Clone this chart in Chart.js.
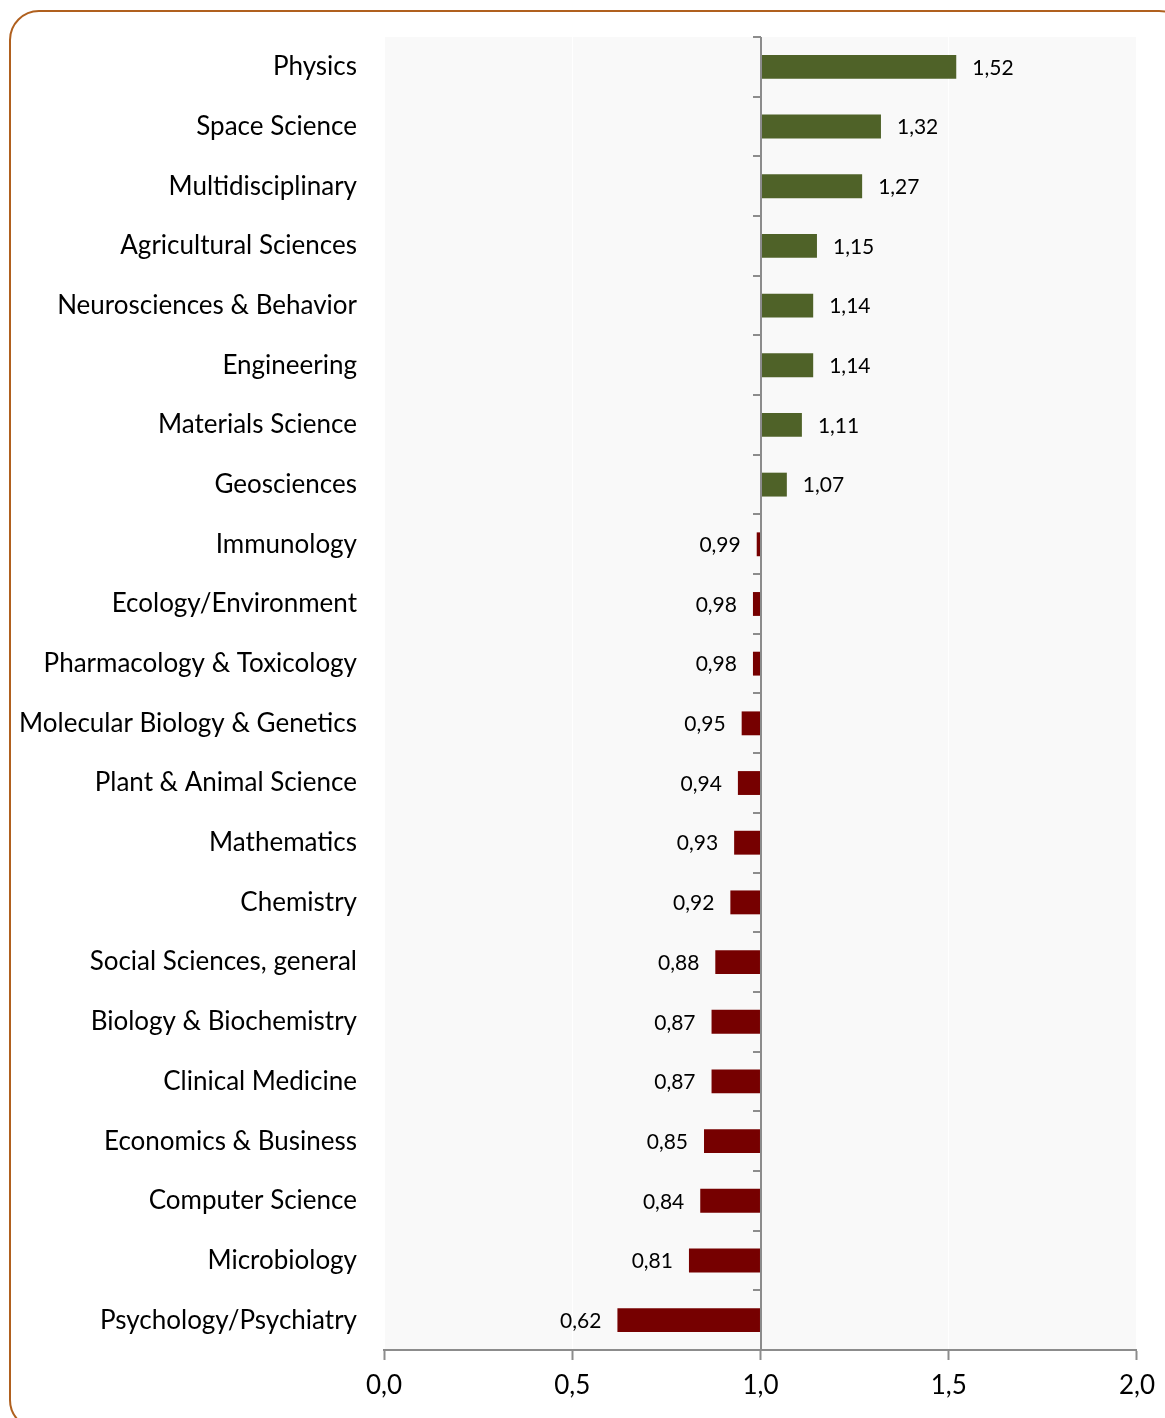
<!DOCTYPE html>
<html>
<head>
<meta charset="utf-8">
<script src="https://cdn.jsdelivr.net/npm/chart.js@4"></script>
<style>
  html, body { margin: 0; padding: 0; background: #fff; overflow: hidden; }
  #wrap { position: relative; width: 1165px; height: 1418px; }
  #frame {
    position: absolute; left: 9px; top: 10px; width: 1180px; height: 1420px;
    box-sizing: border-box; border: 2px solid #b0601e; border-radius: 30px;
  }
  canvas { position: absolute; left: 0; top: 0; }
</style>
</head>
<body>
<div id="wrap">
  <div id="frame"></div>
  <canvas id="chart" width="1165" height="1418"></canvas>
</div>
<script>
// categories and values (ratio vs. world average, base 1,0)
const categories = [
  "Physics", "Space Science", "Multidisciplinary", "Agricultural Sciences",
  "Neurosciences & Behavior", "Engineering", "Materials Science", "Geosciences",
  "Immunology", "Ecology/Environment", "Pharmacology & Toxicology",
  "Molecular Biology & Genetics", "Plant & Animal Science", "Mathematics",
  "Chemistry", "Social Sciences, general", "Biology & Biochemistry",
  "Clinical Medicine", "Economics & Business", "Computer Science",
  "Microbiology", "Psychology/Psychiatry"
];
const values = [
  1.52, 1.32, 1.27, 1.15, 1.14, 1.14, 1.11, 1.07,
  0.99, 0.98, 0.98, 0.95, 0.94, 0.93, 0.92, 0.88,
  0.87, 0.87, 0.85, 0.84, 0.81, 0.62
];
const xTicks = [0, 0.5, 1, 1.5, 2];

const GREEN = "#4f6228";
const RED = "#760000";
const AXIS = "#8c8c8c";
const fmt = (v, d) => v.toFixed(d).replace(".", ",");

// plot background + the vertical axis at 1,0 with its tick marks
const axisPlugin = {
  id: "axisAtOne",
  beforeDraw(chart) {
    const a = chart.chartArea;
    const ctx = chart.ctx;
    ctx.save();
    ctx.fillStyle = "#f9f9f9";
    ctx.fillRect(a.left, a.top, a.right - a.left, a.bottom - a.top);
    ctx.restore();
  },
  afterDraw(chart) {
    const a = chart.chartArea;
    const ctx = chart.ctx;
    const xs = chart.scales.x;
    const ys = chart.scales.y;
    const x1 = Math.round(xs.getPixelForValue(1)) + 1;
    ctx.save();
    ctx.strokeStyle = AXIS;
    ctx.lineWidth = 2;
    ctx.beginPath();
    ctx.moveTo(x1, a.top);
    ctx.lineTo(x1, a.bottom);
    const step = (ys.getPixelForValue(1) - ys.getPixelForValue(0));
    for (let i = 0; i <= categories.length; i++) {
      const y = Math.round(ys.getPixelForValue(0) - step / 2 + i * step);
      ctx.moveTo(x1 - 8, y);
      ctx.lineTo(x1, y);
    }
    ctx.stroke();
    ctx.restore();
  },
  afterDatasetsDraw(chart) {
    const ctx = chart.ctx;
    const xs = chart.scales.x;
    const meta = chart.getDatasetMeta(0);
    ctx.save();
    ctx.font = "21px Lato";
    ctx.fillStyle = "#000";
    ctx.textBaseline = "middle";
    meta.data.forEach((bar, i) => {
      const v = values[i];
      const px = xs.getPixelForValue(v);
      if (v >= 1) {
        ctx.textAlign = "left";
        ctx.fillText(fmt(v, 2), px + 16, bar.y + 1);
      } else {
        ctx.textAlign = "right";
        ctx.fillText(fmt(v, 2), px - 16, bar.y + 1);
      }
    });
    ctx.restore();
  }
};

new Chart(document.getElementById("chart"), {
  type: "bar",
  data: {
    labels: categories,
    datasets: [{
      data: values,
      base: 1,
      backgroundColor: values.map((v) => (v >= 1 ? GREEN : RED)),
      borderWidth: 0,
      barPercentage: 0.4,
      categoryPercentage: 1.0,
    }],
  },
  options: {
    indexAxis: "y",
    responsive: false,
    animation: false,
    layout: { padding: { top: 37, right: 27, bottom: 0, left: 0 } },
    plugins: {
      legend: { display: false },
      tooltip: { enabled: false },
    },
    scales: {
      x: {
        min: 0,
        max: 2,
        afterBuildTicks: (scale) => {
          scale.ticks = xTicks.map((v) => ({ value: v }));
        },
        afterFit: (scale) => { scale.height = 68; },
        grid: {
          color: "#ffffff",
          tickColor: AXIS,
          tickLength: 10,
          lineWidth: 1,
          tickWidth: 2,
        },
        border: { display: true, color: AXIS, width: 2 },
        ticks: {
          color: "#000",
          font: { family: "Lato", size: 26 },
          padding: 10,
          callback: (v) => fmt(v, 1),
        },
      },
      y: {
        afterFit: (scale) => {
          scale.width = 384;
          scale.paddingTop = 0;
          scale.paddingBottom = 0;
        },
        border: { display: false },
        grid: { display: false, drawTicks: false },
        ticks: {
          color: "#000",
          font: { family: "Lato", size: 26 },
          padding: 27,
        },
      },
    },
  },
  plugins: [axisPlugin],
});
</script>
</body>
</html>
